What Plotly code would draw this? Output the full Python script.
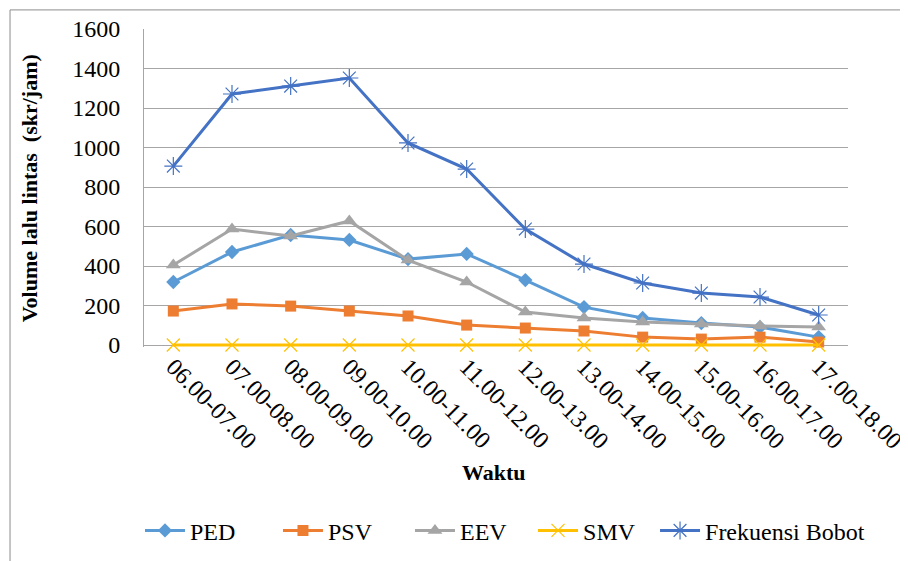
import plotly.graph_objects as go

categories = ["06.00-07.00", "07.00-08.00", "08.00-09.00", "09.00-10.00", "10.00-11.00",
              "11.00-12.00", "12.00-13.00", "13.00-14.00", "14.00-15.00", "15.00-16.00",
              "16.00-17.00", "17.00-18.00"]
ped = [319, 471, 557, 532, 435, 461, 329, 192, 137, 111, 91, 40]
psv = [172, 208, 197, 172, 147, 101, 86, 71, 40, 30, 40, 15]
eev = [405, 587, 552, 628, 430, 319, 167, 137, 116, 106, 96, 91]
smv = [0, 0, 0, 0, 0, 0, 0, 0, 0, 0, 0, 0]
frek = [906, 1271, 1311, 1352, 1023, 891, 587, 410, 314, 263, 243, 152]
y_ticks = [0, 200, 400, 600, 800, 1000, 1200, 1400, 1600]

SERIF = "Liberation Serif"

series = [
    ("PED", ped, "#5B9BD5", dict(symbol="diamond", size=11)),
    ("PSV", psv, "#ED7D31", dict(symbol="square", size=11)),
    ("EEV", eev, "#A5A5A5", dict(symbol="triangle-up", size=13)),
    ("SMV", smv, "#FFC000", dict(symbol="x-thin-open", size=13, line=dict(width=1.2, color="#FFC000"))),
    ("Frekuensi Bobot", frek, "#4472C4", dict(symbol="asterisk-open", size=15, line=dict(width=1.2, color="#4472C4"))),
]
legend_x = [-0.0057, 0.1903, 0.3778, 0.5526, 0.7259]

fig = go.Figure()
legend_layouts = {}
for i, (name, vals, col, mk) in enumerate(series):
    mk = dict(mk)
    mk.setdefault("color", col)
    lg = "legend" if i == 0 else f"legend{i + 1}"
    fig.add_trace(go.Scatter(x=categories, y=vals, name=name, mode="lines+markers",
                             line=dict(color=col, width=3), marker=mk, legend=lg, cliponaxis=False))
    legend_layouts[lg] = dict(orientation="h", x=legend_x[i], xanchor="left", y=-0.578, yanchor="middle",
                              font=dict(family=SERIF, size=24, color="black"), itemwidth=40,
                              bgcolor="rgba(0,0,0,0)", borderwidth=0)

fig.update_layout(
    width=900, height=553,
    margin=dict(l=136, r=60, t=21, b=214, autoexpand=False),
    plot_bgcolor="white", paper_bgcolor="white",
    font=dict(family=SERIF, size=22, color="black"),
    showlegend=True,
    xaxis=dict(type="category", tickangle=45, showline=False,
               showgrid=False, ticks="", tickfont=dict(family=SERIF, size=24, color="black"),
               range=[-0.5, 11.5], fixedrange=True, automargin=False),
    yaxis=dict(range=[-10, 1600], tickvals=y_ticks, showline=True, linecolor="#A6A6A6", linewidth=1,
               showgrid=True, gridcolor="#A6A6A6", gridwidth=1,
               zeroline=True, zerolinecolor="#A6A6A6", zerolinewidth=1, ticks="",
               ticklabelstandoff=18, automargin=False,
               tickfont=dict(family=SERIF, size=24, color="black"), fixedrange=True),
    annotations=[
        dict(text="<b>Volume lalu lintas \u00a0(skr/jam)</b>", xref="paper", yref="paper",
             x=-0.163, y=0.5, textangle=-90, showarrow=False, xanchor="center", yanchor="middle",
             font=dict(family=SERIF, size=22, color="black")),
        dict(text="<b>Waktu</b>", xref="paper", yref="paper", x=0.497, y=-0.395,
             showarrow=False, xanchor="center", yanchor="middle",
             font=dict(family=SERIF, size=22, color="black")),
    ],
    shapes=[
        dict(type="rect", xref="paper", yref="paper", x0=-0.1903, x1=2, y0=-2, y1=1.06,
             line=dict(color="#8C8C8C", width=1), fillcolor="rgba(0,0,0,0)", layer="below"),
    ],
    **legend_layouts,
)

fig.write_html("out.html")
